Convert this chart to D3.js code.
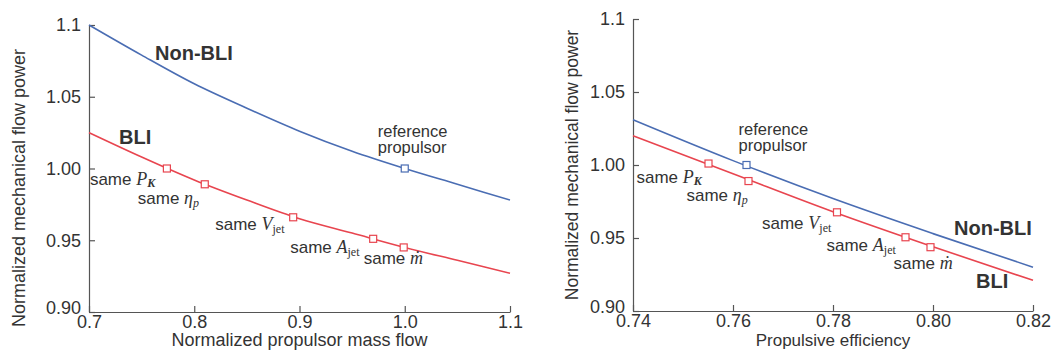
<!DOCTYPE html>
<html>
<head>
<meta charset="utf-8">
<script src="https://cdn.jsdelivr.net/npm/d3@7"></script>
<style>
  body { margin: 0; background: #fff; }
  svg { display: block; }
  text { font-family: "Liberation Sans", Arial, sans-serif; fill: #333; }
  .axis path, .axis line { stroke: #555; stroke-width: 1.2; }
  .axis text { font-size: 18px; fill: #333; }
  .math { font-family: "Liberation Serif", "DejaVu Serif", serif; font-style: italic; }
</style>
</head>
<body>
<svg width="1051" height="354"></svg>
<script>
// ---- data ----
const yTicks = [0.90, 0.95, 1.00, 1.05, 1.10];
const yTickLabels = ["0.90", "0.95", "1.00", "1.05", "1.1"];

// left panel: normalized propulsor mass flow
const massTicks = [0.7, 0.8, 0.9, 1.0, 1.1];
const massTickLabels = ["0.7", "0.8", "0.9", "1.0", "1.1"];
const massX = [0.70, 0.75, 0.80, 0.85, 0.90, 0.95, 1.00, 1.05, 1.10];
const massNonBLI = [1.100, 1.079, 1.059, 1.042, 1.026, 1.012, 1.000, 0.989, 0.978];
const massBLI = [1.025, 1.008, 0.992, 0.978, 0.965, 0.955, 0.945, 0.936, 0.927];
const massRef = [1.000, 1.000];
const massMarkX = [0.774, 0.810, 0.894, 0.970, 0.999];
const massMarkY = [1.000, 0.989, 0.966, 0.951, 0.945];

// right panel: propulsive efficiency
const effTicks = [0.74, 0.76, 0.78, 0.80, 0.82];
const effTickLabels = ["0.74", "0.76", "0.78", "0.80", "0.82"];
const effX = [0.74, 0.76, 0.78, 0.80, 0.82];
const effNonBLI = [1.031, 1.003, 0.977, 0.953, 0.930];
const effBLI = [1.020, 0.994, 0.968, 0.944, 0.921];
const effRef = [0.7627, 1.000];
const effMarkX = [0.7551, 0.7631, 0.7808, 0.7945, 0.7995];
const effMarkY = [1.001, 0.989, 0.9676, 0.9505, 0.9437];

// labels of the BLI markers: [variable, subscript, subscript style]
const markLabels = [["P", "K", "k"], ["η", "p", "i"], ["V", "jet", "r"], ["A", "jet", "r"], ["ṁ", "", ""]];

const BLUE = "#4a6db3", RED = "#e8454f";
const svg = d3.select("svg");

function panel(o) {
  const x = d3.scaleLinear().domain(o.xDomain).range(o.xRange);
  const y = d3.scaleLinear().domain([0.9, 1.1]).range(o.yRange);
  const g = svg.append("g");

  g.append("g").attr("class", "axis")
    .attr("transform", `translate(0,${o.yRange[0]})`)
    .call(d3.axisBottom(x).tickValues(o.xTicks).tickFormat((d, i) => o.xTickLabels[i])
      .tickSize(-6).tickSizeOuter(0).tickPadding(3));

  g.append("g").attr("class", "axis")
    .attr("transform", `translate(${o.xRange[0]},0)`)
    .call(d3.axisLeft(y).tickValues(yTicks).tickFormat((d, i) => yTickLabels[i])
      .tickSize(-6).tickSizeOuter(0).tickPadding(8))
    .selectAll(".tick text").attr("dy", (d, i) => i === 0 ? "0.1em" : "0.32em");

  const line = d3.line().x(d => x(d[0])).y(d => y(d[1])).curve(d3.curveMonotoneX);
  g.append("path").datum(d3.zip(o.lx, o.nonBLI)).attr("d", line)
    .attr("fill", "none").attr("stroke", BLUE).attr("stroke-width", 1.6);
  g.append("path").datum(d3.zip(o.lx, o.bli)).attr("d", line)
    .attr("fill", "none").attr("stroke", RED).attr("stroke-width", 1.6);

  const sq = 7;
  const marks = d3.zip(o.mx, o.my);
  g.selectAll(".mk").data(marks).join("rect")
    .attr("x", d => x(d[0]) - sq / 2).attr("y", d => y(d[1]) - sq / 2)
    .attr("width", sq).attr("height", sq)
    .attr("fill", "#fff").attr("stroke", RED).attr("stroke-width", 1.2);
  g.append("rect")
    .attr("x", x(o.ref[0]) - sq / 2).attr("y", y(o.ref[1]) - sq / 2)
    .attr("width", sq).attr("height", sq)
    .attr("fill", "#fff").attr("stroke", BLUE).attr("stroke-width", 1.2);

  // reference propulsor label, two lines
  const rx = x(o.ref[0]) + o.refOff[0], ry = y(o.ref[1]) + o.refOff[1];
  g.append("text").attr("font-size", 16.5).attr("x", rx).attr("y", ry).text("reference");
  g.append("text").attr("font-size", 16.5).attr("x", rx).attr("y", ry + 16).text("propulsor");

  // BLI marker labels
  marks.forEach((d, i) => {
    const [v, sub, st] = markLabels[i];
    const t = g.append("text").attr("font-size", 17)
      .attr("x", x(d[0]) + o.markOff[i][0]).attr("y", y(d[1]) + o.markOff[i][1]);
    t.append("tspan").text("same ");
    t.append("tspan").attr("class", "math").attr("font-size", 18).text(v);
    if (sub) {
      const s = t.append("tspan").attr("dy", st === "k" ? 2 : 3).attr("font-size", 12).text(sub)
        .attr("font-family", "Liberation Serif, serif");
      if (st === "k") s.attr("font-style", "italic").attr("font-weight", "bold");
      if (st === "i") s.attr("font-style", "italic");
    }
  });

  // curve names
  o.names.forEach(n => {
    g.append("text").attr("x", n[1]).attr("y", n[2])
      .attr("font-size", 20).attr("font-weight", "bold").attr("fill", "#1a1a1a").text(n[0]);
  });

  // axis titles
  g.append("text").attr("text-anchor", "middle").attr("font-size", o.xtSize)
    .attr("x", (o.xRange[0] + o.xRange[1]) / 2).attr("y", o.xtY).text(o.xTitle);
  g.append("text").attr("text-anchor", "middle").attr("font-size", o.ytSize)
    .attr("transform", `translate(${o.ytX},${o.ytY}) rotate(-90)`)
    .text("Normalized mechanical flow power");
}

panel({
  xDomain: [0.7, 1.1], xRange: [89, 510], yRange: [312, 25],
  xTicks: massTicks, xTickLabels: massTickLabels,
  lx: massX, nonBLI: massNonBLI, bli: massBLI,
  ref: massRef, mx: massMarkX, my: massMarkY,
  refOff: [-27, -32],
  markOff: [[-77, 16], [-67, 20], [-78, 13], [-83, 14], [-40, 17]],
  names: [["Non-BLI", 155, 60], ["BLI", 119, 144]],
  xTitle: "Normalized propulsor mass flow", xtSize: 18, xtY: 346,
  ytSize: 18, ytX: 25, ytY: 188
});

panel({
  xDomain: [0.74, 0.82], xRange: [633, 1033], yRange: [311, 19],
  xTicks: effTicks, xTickLabels: effTickLabels,
  lx: effX, nonBLI: effNonBLI, bli: effBLI,
  ref: effRef, mx: effMarkX, my: effMarkY,
  refOff: [-8, -30],
  markOff: [[-72, 19], [-62, 20], [-75, 17], [-79, 14], [-37, 22]],
  names: [["Non-BLI", 954, 235], ["BLI", 976, 288]],
  xTitle: "Propulsive efficiency", xtSize: 17, xtY: 346,
  ytSize: 17.5, ytX: 578, ytY: 165
});
</script>
</body>
</html>
